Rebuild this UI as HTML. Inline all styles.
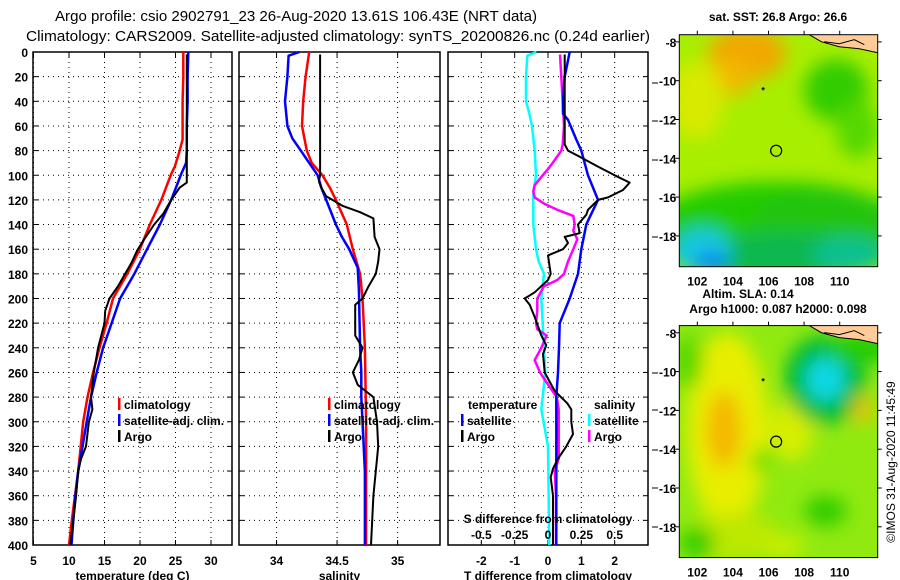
<!DOCTYPE html>
<html><head><meta charset="utf-8"><style>
html,body{margin:0;padding:0;background:#fff;}
svg{display:block;font-family:"Liberation Sans",Arial,sans-serif;}
.t{font-size:12px;font-weight:bold;fill:#000;}
</style></head><body>
<svg id="fig" width="900" height="580" viewBox="0 0 900 580" xmlns="http://www.w3.org/2000/svg">
<defs>
<filter id="blur6" x="-50%" y="-50%" width="200%" height="200%"><feGaussianBlur stdDeviation="6"/></filter>
<filter id="blur10" x="-50%" y="-50%" width="200%" height="200%"><feGaussianBlur stdDeviation="9"/></filter>
<clipPath id="c1"><rect x="679.3" y="34.7" width="198.4" height="232"/></clipPath>
<clipPath id="c2"><rect x="679.3" y="325.6" width="198.4" height="232"/></clipPath>
</defs>
<text x="55" y="21" font-size="15" textLength="482" lengthAdjust="spacingAndGlyphs">Argo profile: csio 2902791_23 26-Aug-2020 13.61S 106.43E (NRT data)</text>
<text x="26" y="41" font-size="15" textLength="624" lengthAdjust="spacingAndGlyphs">Climatology: CARS2009. Satellite-adjusted climatology: synTS_20200826.nc (0.24d earlier)</text>
<g id="plots"></g>
<g id="maps"></g>
<text transform="translate(895,462) rotate(-90)" text-anchor="middle" font-size="12">©IMOS 31-Aug-2020 11:45:49</text>
</svg>
<script>
// ---------- data ----------
var depthTicks=[0,20,40,60,80,100,120,140,160,180,200,220,240,260,280,300,320,340,360,380,400];
var tempTicks=[5,10,15,20,25,30];
var salTicks=[34,34.5,35];
var salTickLabels=["34","34.5","35"];
var tdiffTicks=[-2,-1,0,1,2];
var sdiffTicks=[-0.5,-0.25,0,0.25,0.5];
var sdiffTickLabels=["-0.5","-0.25","0","0.25","0.5"];

var climTDepth=[0,20,40,60,71,80,93,99,120,140,161,180,200,220,240,260,280,300,340,380,400];
var climTVal=[26.1,26.1,26.0,26.0,26.0,25.6,24.9,24.4,23.0,21.4,19.9,18.2,16.2,15.3,14.3,13.4,12.6,12.0,11.3,10.4,10.0];
var satTDepth=[0,20,40,60,80,90,99,120,140,161,180,193,200,220,240,260,280,300,320,340,360,380,400];
var satTVal=[26.8,26.7,26.7,26.6,26.6,26.5,25.8,24.4,22.8,20.9,19.2,17.9,17.2,16.0,14.8,13.9,13.1,12.5,11.9,11.3,10.9,10.6,10.35];
var argoTDepth=[2,20,40,60,80,100,106,110,120,131,140,152,161,171,180,190,200,210,220,240,260,280,290,300,320,330,340,360,380,400];
var argoTVal=[26.6,26.6,26.6,26.6,26.6,26.6,26.6,25.6,24.4,23.3,22.0,20.6,19.6,18.8,17.9,16.9,15.7,15.1,15.0,14.1,13.5,13.1,13.3,12.8,12.4,11.7,11.3,11.0,10.6,10.2];

var climSDepth=[0,20,40,60,80,90,100,110,120,140,160,180,200,240,300,400];
var climSVal=[34.27,34.24,34.22,34.21,34.25,34.29,34.38,34.44,34.49,34.58,34.63,34.69,34.71,34.73,34.74,34.74];
var satSDepth=[0,3,20,40,60,70,80,90,100,110,120,140,150,160,175,193,240,260,280,340,400];
var satSVal=[34.19,34.10,34.09,34.07,34.09,34.13,34.20,34.27,34.34,34.37,34.41,34.49,34.54,34.60,34.67,34.68,34.69,34.70,34.70,34.73,34.73];
var argoSDepth=[2,100,105,110,117,125,130,135,150,160,170,180,190,200,205,220,230,240,250,260,270,280,300,320,340,360,400];
var argoSVal=[34.36,34.36,34.35,34.37,34.41,34.55,34.69,34.80,34.81,34.85,34.84,34.82,34.76,34.71,34.65,34.65,34.65,34.71,34.68,34.63,34.67,34.80,34.83,34.84,34.82,34.80,34.78];

var satDTDepth=[0,20,40,50,55,71,80,100,120,134,140,160,180,200,220,240,260,280,400];
var satDTVal=[0.65,0.5,0.45,0.45,0.6,0.85,1.0,1.2,1.5,1.25,1.15,1.0,0.9,0.65,0.35,0.33,0.3,0.25,0.25];
var argoDTDepth=[2,75,80,85,93,100,106,112,118,120,128,132,140,147,150,155,160,165,180,185,195,200,205,215,230,238,245,260,265,275,285,290,300,310,320,330,338,345,360,400];
var argoDTVal=[0.5,0.5,0.6,0.95,1.5,2.0,2.45,2.25,1.8,1.5,1.2,1.15,0.9,0.95,0.5,0.6,0.45,0.0,0.08,0.0,-0.4,-0.7,-0.55,-0.4,-0.2,-0.05,-0.15,-0.1,0.0,0.2,0.58,0.7,0.7,0.75,0.55,0.3,0.15,0.08,0.15,0.15];
var satDSDepth=[0,3,20,40,50,60,80,100,115,140,160,170,180,200,260,290,320,400];
var satDSVal=[-0.087,-0.155,-0.165,-0.165,-0.14,-0.12,-0.1,-0.09,-0.11,-0.11,-0.09,-0.07,-0.03,-0.05,-0.02,-0.05,0.0,0.01];
var argoDSDepth=[2,20,40,60,75,80,90,95,100,108,113,118,123,128,133,140,145,152,160,170,180,185,190,200,210,220,225,230,240,250,260,265,280,290,330,340,360,400];
var argoDSVal=[0.09,0.1,0.11,0.12,0.11,0.1,0.035,0.0,-0.04,-0.1,-0.11,-0.1,-0.03,0.07,0.19,0.2,0.19,0.22,0.19,0.15,0.12,0.07,-0.03,-0.08,-0.08,-0.09,-0.08,-0.01,-0.05,-0.1,-0.06,-0.03,0.065,0.08,0.08,0.05,0.06,0.06];

var mapLatTicks=[-8,-10,-12,-14,-16,-18];
var mapLonTicks=[102,104,106,108,110];

// ---------- helpers ----------
var NS="http://www.w3.org/2000/svg";
var plots=document.getElementById('plots');
var maps=document.getElementById('maps');
function mk(tag,attrs,parent){var e=document.createElementNS(NS,tag);for(var k in attrs)e.setAttribute(k,attrs[k]);(parent||plots).appendChild(e);return e;}
var yTop=52,yBot=545;
function yD(d){return yTop+(d/400)*(yBot-yTop);}
function scale(v0,v1,x0,x1){return function(v){return x0+(v-v0)/(v1-v0)*(x1-x0);};}
var panels=[
 {name:'temperature-panel',x0:33,x1:232,fx:scale(4.93,32.96,33,232),ticks:tempTicks,labels:tempTicks.map(String),title:'temperature (deg C)'},
 {name:'salinity-panel',x0:239,x1:440,fx:scale(33.69,35.35,239,440),ticks:salTicks,labels:salTickLabels,title:'salinity'},
 {name:'difference-panel',x0:448,x1:648,fx:scale(-3,3,448,648),ticks:tdiffTicks,labels:tdiffTicks.map(String),title:'T difference from climatology'}
];
panels.forEach(function(p,i){
 var g=mk('g',{});
 
 
 depthTicks.forEach(function(d){
  if(d>0&&d<400){var l=mk('line',{x1:p.x0,x2:p.x1,y1:yD(d),y2:yD(d),stroke:'#000','stroke-width':1,'stroke-dasharray':'1,4'},g);
   }
  mk('line',{x1:p.x0,x2:p.x0+5,y1:yD(d),y2:yD(d),stroke:'#000','stroke-width':1},g);
  mk('line',{x1:p.x1-5,x2:p.x1,y1:yD(d),y2:yD(d),stroke:'#000','stroke-width':1},g);
 });
 p.ticks.forEach(function(v,k){
  var x=p.fx(v);
  var l=mk('line',{x1:x,x2:x,y1:yTop,y2:yBot,stroke:'#000','stroke-width':1,'stroke-dasharray':'1,4'},g);
  
  mk('line',{x1:x,x2:x,y1:yBot-5,y2:yBot,stroke:'#000'},g);
  mk('line',{x1:x,x2:x,y1:yTop,y2:yTop+5,stroke:'#000'},g);
  var t=mk('text',{x:x,y:565,'text-anchor':'middle','class':'t','font-size':'13'},g);t.textContent=p.labels[k];
  
 });
 var r=mk('rect',{x:p.x0,y:yTop,width:p.x1-p.x0,height:yBot-yTop,fill:'none',stroke:'#000','stroke-width':1.5},g);
 
 var tt=mk('text',{x:(p.x0+p.x1)/2,y:580,'text-anchor':'middle','class':'t','font-size':'13'},g);tt.textContent=p.title;
 
});
depthTicks.forEach(function(d){
 var t=mk('text',{x:28,y:yD(d)+5,'text-anchor':'end','class':'t','font-size':'13'});t.textContent=String(d);
 
});
function series(depths,vals,fx,color,w,name){
 var pts=depths.map(function(d,i){return fx(vals[i]).toFixed(1)+','+yD(d).toFixed(1);}).join(' ');
 var pl=mk('polyline',{points:pts,fill:'none',stroke:color,'stroke-width':w,'stroke-linejoin':'round'});
 
 
}
var fT=panels[0].fx,fS=panels[1].fx,fDT=panels[2].fx;
var fDS=function(v){return fDT(v*4);};
series(climTDepth,climTVal,fT,'#ff0000',2.5,'temp-climatology-line');
series(satTDepth,satTVal,fT,'#0000ff',2.5,'temp-satellite-line');
series(argoTDepth,argoTVal,fT,'#000',2,'temp-argo-line');
series(climSDepth,climSVal,fS,'#ff0000',2.5,'salinity-climatology-line');
series(satSDepth,satSVal,fS,'#0000ff',2.5,'salinity-satellite-line');
series(argoSDepth,argoSVal,fS,'#000',2,'salinity-argo-line');
series(satDSDepth,satDSVal,fDS,'#00ffff',2.5,'sdiff-satellite-line');
series(argoDSDepth,argoDSVal,fDS,'#ff00ff',2.5,'sdiff-argo-line');
series(satDTDepth,satDTVal,fDT,'#0000ff',2.5,'tdiff-satellite-line');
series(argoDTDepth,argoDTVal,fDT,'#000',2,'tdiff-argo-line');

// legends
function leg(x,y,color,label,name){
 var g=mk('g',{});
 
 
 mk('rect',{x:x,y:y-11,width:2.5,height:12,fill:color},g);
 var t=mk('text',{x:x+6,y:y,'class':'t'},g);t.textContent=label;
}
leg(118,409,'#ff0000','climatology','legend-entry-climatology');
leg(118,425,'#0000ff','satellite-adj. clim.','legend-entry-satellite');
leg(118,441,'#000','Argo','legend-entry-argo');
leg(328,409,'#ff0000','climatology','legend-entry-climatology');
leg(328,425,'#0000ff','satellite-adj. clim.','legend-entry-satellite');
leg(328,441,'#000','Argo','legend-entry-argo');
var h1=mk('text',{x:468,y:409,'class':'t'});h1.textContent='temperature';

var h2=mk('text',{x:594,y:409,'class':'t'});h2.textContent='salinity';

leg(461,425,'#0000ff','satellite','legend-entry-temp-satellite');
leg(461,441,'#000','Argo','legend-entry-temp-argo');
leg(588,425,'#00ffff','satellite','legend-entry-sal-satellite');
leg(588,441,'#ff00ff','Argo','legend-entry-sal-argo');
var sd=mk('text',{x:548,y:523,'text-anchor':'middle','class':'t'});sd.textContent='S difference from climatology';

sdiffTicks.forEach(function(v,k){
 var t=mk('text',{x:fDS(v),y:539,'text-anchor':'middle','class':'t'});t.textContent=sdiffTickLabels[k];
 
});
[83,121,160,237,373,410,450,488,527].forEach(function(y){mk('line',{x1:652,x2:658,y1:y,y2:y,stroke:'#000'});});

// ---------- maps ----------
function drawMap(top,clipId,blobs,base,name,title1,title2){
 var g=mk('g',{},maps);
 
 
 var L=679.3,R=877.7,B=top+232;
 var lx=function(lon){return 697.3+(lon-102)*17.8;};
 var ly=function(lat){return top+7.2+(-8-lat)*19.4;};
 var inner=mk('g',{'clip-path':'url(#'+clipId+')'},g);
 mk('rect',{x:L,y:top,width:R-L,height:232,fill:base},inner);
 var bg=mk('g',{filter:'url(#blur10)'},inner);
 blobs.forEach(function(b){mk('ellipse',{cx:lx(b[0]),cy:ly(b[1]),rx:b[2]*17.8,ry:b[3]*19.4,fill:b[4]},bg);});
 mk('path',{d:'M'+(L+130)+','+(top)+' L'+(L+142)+','+(top+7)+' L'+(L+160)+','+(top+12)+' L'+(L+180)+','+(top+14)+' L'+(R)+','+(top+18)+' L'+R+','+top+' Z',fill:'#ffcc99'},inner);
 mk('path',{d:'M'+(L+130)+','+(top)+' L'+(L+142)+','+(top+7)+' L'+(L+160)+','+(top+12)+' L'+(L+180)+','+(top+14)+' L'+(R)+','+(top+18)+' M'+(L+145)+','+(top+7)+' L'+(L+160)+','+(top+9)+' L'+(L+175)+','+(top+5)+' L'+(L+185)+','+(top+10)},inner).setAttribute('style','fill:none;stroke:#000;stroke-width:1');
 var c=mk('circle',{cx:lx(106.43),cy:ly(-13.61),r:5.5,fill:'none',stroke:'#000','stroke-width':1.2},g);
 
 mk('text',{x:lx(105.7),y:ly(-10.5)+3,'text-anchor':'middle','font-size':'9','font-weight':'bold'},g).textContent='*';
 mk('rect',{x:L,y:top,width:R-L,height:232,fill:'none',stroke:'#000','stroke-width':1},g);
 mapLatTicks.forEach(function(v){
  var y=ly(v);
  mk('line',{x1:L-4,x2:L,y1:y,y2:y,stroke:'#000'},g);
  mk('line',{x1:R,x2:R+4,y1:y,y2:y,stroke:'#000'},g);
  var t=mk('text',{x:L-3,y:y+5,'text-anchor':'end','class':'t','font-size':'13'},g);t.textContent=String(v);
 });
 mapLonTicks.forEach(function(v){
  var x=lx(v);
  mk('line',{x1:x,x2:x,y1:top-4,y2:top,stroke:'#000'},g);
  var t=mk('text',{x:x,y:B+19,'text-anchor':'middle','class':'t','font-size':'13'},g);t.textContent=String(v);
 });
 var t1=mk('text',{x:title1[1],y:title1[2],'text-anchor':'middle','class':'t'},g);t1.textContent=title1[0];
 if(title2){var t2=mk('text',{x:title2[1],y:title2[2],'text-anchor':'middle','class':'t'},g);t2.textContent=title2[0];}
}
drawMap(34.7,'c1',[
 [104.8,-8.6,2.2,1.4,'#f0a800'],[103.8,-9.8,1.4,1.0,'#f2b800'],[102,-11,1.5,2,'#d8ea00'],
 [109.8,-10.5,1.8,1.6,'#33cc00'],[111,-12.5,1.2,1.5,'#55d800'],
 [106.5,-17.8,7.5,2.6,'#22cc00'],[104,-17.2,4,1.6,'#22cc00'],[109,-17.5,4,2,'#22c411'],[107,-19,5,1.2,'#10b850'],
 [110.5,-19,2,1,'#10c090'],[102.3,-18.8,1.6,1.2,'#18c8e0'],[102.8,-19.4,1.0,0.6,'#1188ee']
],'#a8ee00','sst-map',['sat. SST: 26.8 Argo: 26.6',778,21],null);
drawMap(325.6,'c2',[
 [103.7,-13,2.3,5,'#e8ee00'],[103.5,-13,1.0,2.0,'#f4b800'],[107.3,-13,1.2,1.6,'#d8ee00'],
 [109.2,-10.4,2.3,2.3,'#00bb33'],[109.2,-10.4,1.1,1.1,'#11d8e8'],[109.2,-10.4,0.8,0.8,'#11d8e8'],[111.3,-8.8,2,0.8,'#22cc00'],
 [101.5,-9.5,0.8,1.4,'#55d800'],[105.6,-14.6,0.6,0.6,'#66dd00'],[109.2,-17.2,1.2,0.8,'#33cc00'],
 [111.3,-12,0.5,0.8,'#f0c000'],[104,-18.5,2.5,1.2,'#bde800'],[102,-18.8,1,0.8,'#33cc00'],[106.8,-19,1.2,0.6,'#ccee00']
],'#90ea10','sla-map',['Altim. SLA: 0.14',748,298],['Argo h1000: 0.087 h2000: 0.098',778,313]);
</script>
</body></html>
